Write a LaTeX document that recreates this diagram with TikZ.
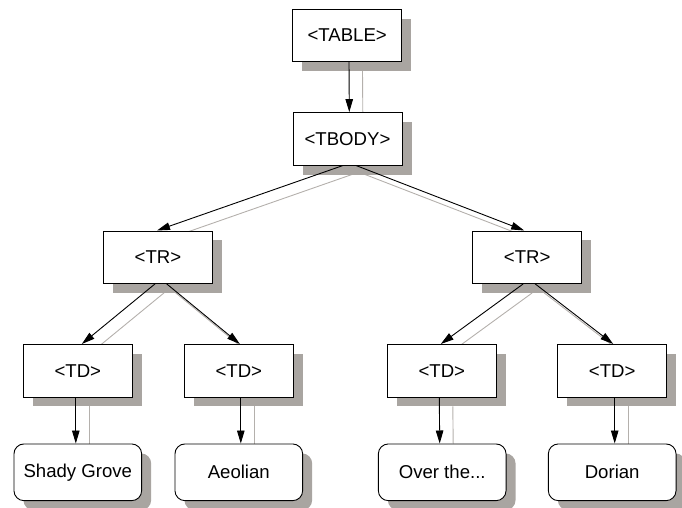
\documentclass[tikz,border=0pt]{standalone}
\usepackage{fontspec}
\setmainfont{Liberation Sans}
\usetikzlibrary{shadows,arrows.meta,backgrounds}
\definecolor{shadowgray}{HTML}{A9A5A1}
\definecolor{edgegray}{HTML}{B4B0AC}
\tikzset{
  tagbox/.style={draw=black, line width=0.9pt, fill=white,
    minimum width=109pt, minimum height=52.5pt, inner sep=0pt,
    font=\fontsize{18.6}{20}\selectfont,
    drop shadow={shadow xshift=9.5pt, shadow yshift=-9.5pt, opacity=1, fill=shadowgray}},
  leafbox/.style={tagbox, rounded corners=10pt, minimum width=127.7pt, minimum height=56.7pt},
  link/.style={draw=black, line width=0.9pt, -{Triangle[length=13pt,width=7.5pt]}},
  ghost/.style={draw=edgegray, line width=0.9pt},
}
\begin{document}
\begin{tikzpicture}[x=1pt,y=-1pt]
\useasboundingbox (0,0) rectangle (682,508);

% element boxes
\node[tagbox] (table) at (347.2,35.3) {<TABLE>};
\node[tagbox] (tbody) at (347.5,138.8) {<TBODY>};
\node[tagbox] (trL) at (158,257.2) {<TR>};
\node[tagbox] (trR) at (527.2,257.2) {<TR>};
\node[tagbox] (td1) at (77.8,370.7) {<TD>};
\node[tagbox] (td2) at (238.8,370.7) {<TD>};
\node[tagbox] (td3) at (441.8,370.7) {<TD>};
\node[tagbox] (td4) at (612.2,370.7) {<TD>};

% text leaves
\node[leafbox] (leaf1) at (77.8,472.3) {Shady Grove};
\node[leafbox] (leaf2) at (238.8,472.3) {Aeolian};
\node[leafbox] (leaf3) at (442.2,472.3) {Over the...};
\node[leafbox] (leaf4) at (612.2,472.3) {Dorian};

% connector shadows, behind everything
\begin{pgfonlayer}{background}
  \draw[ghost] ([shift={(15.3,9)}]table.south) -- ([shift={(15.3,0)}]tbody.north);
  \draw[ghost] ([shift={(4.5,9)}]tbody.south) -- ([shift={(8,9)}]trL.north);
  \draw[ghost] ([shift={(17.5,9)}]tbody.south) -- ([shift={(6,9)}]trR.north);
  \draw[ghost] ([shift={(6,9)}]trL.south) -- ([shift={(13,9)}]td1.north);
  \draw[ghost] ([shift={(17.7,9)}]trL.south) -- ([shift={(10,9)}]td2.north);
  \draw[ghost] ([shift={(5,9)}]trR.south) -- ([shift={(8,9)}]td3.north);
  \draw[ghost] ([shift={(17,9)}]trR.south) -- ([shift={(10,9)}]td4.north);
  \draw[ghost] ([shift={(11.5,9)}]td1.south) -- ([shift={(11.5,0)}]leaf1.north);
  \draw[ghost] ([shift={(15.5,9)}]td2.south) -- ([shift={(15.5,0)}]leaf2.north);
  \draw[ghost] ([shift={(11,9)}]td3.south) -- ([shift={(11,0)}]leaf3.north);
  \draw[ghost] ([shift={(16,9)}]td4.south) -- ([shift={(16,0)}]leaf4.north);
\end{pgfonlayer}

% connectors
\draw[link] ([xshift=1.8pt]table.south) -- ([xshift=1.8pt]tbody.north);
\draw[link] ([xshift=-4.5pt]tbody.south) -- ([xshift=-1pt]trL.north);
\draw[link] ([xshift=8.5pt]tbody.south) -- ([xshift=-3pt]trR.north);
\draw[link] ([xshift=-3pt]trL.south) -- ([xshift=4pt]td1.north);
\draw[link] ([xshift=8.7pt]trL.south) -- ([xshift=1pt]td2.north);
\draw[link] ([xshift=-4pt]trR.south) -- ([xshift=-1pt]td3.north);
\draw[link] ([xshift=8pt]trR.south) -- ([xshift=1pt]td4.north);
\draw[link] ([xshift=-2pt]td1.south) -- ([xshift=-2pt]leaf1.north);
\draw[link] ([xshift=2pt]td2.south) -- ([xshift=2pt]leaf2.north);
\draw[link] ([xshift=-2.5pt]td3.south) -- ([xshift=-2.5pt]leaf3.north);
\draw[link] ([xshift=2.5pt]td4.south) -- ([xshift=2.5pt]leaf4.north);
\end{tikzpicture}
\end{document}
